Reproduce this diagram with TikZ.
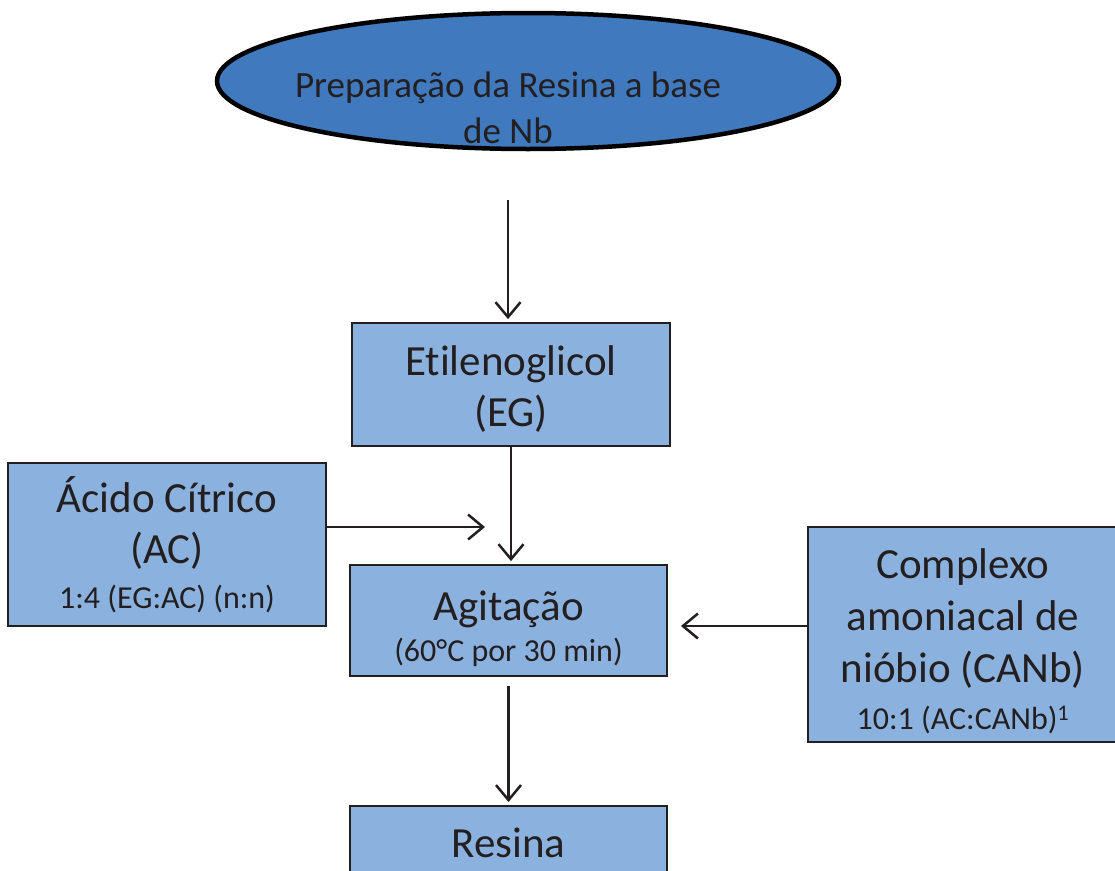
\documentclass[tikz,border=0pt]{standalone}
\usepackage{fontspec}
\setmainfont{Carlito}[Ligatures={NoCommon}]
\usetikzlibrary{shapes.geometric,arrows.meta}
\definecolor{boxfill}{RGB}{139,178,222}
\definecolor{ellfill}{RGB}{64,121,189}
\definecolor{txt}{RGB}{35,31,32}
\definecolor{edge}{RGB}{35,31,32}
\tikzset{
  stepbox/.style={draw=edge, line width=1.8pt, fill=boxfill, rectangle, inner sep=0pt, align=center, text=txt, font=\fontsize{43}{51}\selectfont},
  flow/.style={draw=edge, line width=2.5pt, shorten >=3pt, -{Straight Barb[length=15pt,width=25pt,line width=2.5pt]}},
}
\newcommand{\smalltxt}{\fontsize{32}{38}\selectfont}
\begin{document}
\begin{tikzpicture}[x=1pt,y=-1pt]
\useasboundingbox (0,0) rectangle (1115,870);
\fill[white] (0,0) rectangle (1115,870);
\node[ellipse, draw=black, line width=4.5pt, fill=ellfill, minimum width=622pt, minimum height=136pt, inner sep=0pt] (start) at (528,81) {};
\node[align=center, text=txt, font=\fontsize{37}{46}\selectfont, inner sep=0pt] (title) at (508,108) {Preparação da Resina a base\\de Nb};
\node[stepbox, minimum width=318pt, minimum height=123pt] (eg) at (511,384.5) {\rule{0pt}{38pt}Etilenoglicol\\(EG)};
\node[stepbox, minimum width=318pt, minimum height=163pt] (ac) at (167,544.5) {Ácido Cítrico\\(AC)\\[-6pt]{\smalltxt 1:4 (EG:AC) (n:n)}};
\node[stepbox, minimum width=317pt, minimum height=111pt] (agit) at (508.5,620.5) {\rule{0pt}{46pt}Agitação\\[-10pt]{\smalltxt (60°C por 30 min)}};
\node[stepbox, minimum width=310pt, minimum height=215pt, font=\fontsize{43}{52}\selectfont] (canb) at (963,634.5) {\rule{0pt}{44pt}Complexo\\amoniacal de\\nióbio (CANb)\\[-5pt]{\smalltxt 10:1 (AC:CANb)\textsuperscript{1}}};
\node[stepbox, minimum width=317pt, minimum height=110pt, anchor=north] (res) at (508.5,805) {};
\node[text=txt, font=\fontsize{43}{50}\selectfont, anchor=base] (restxt) at (508.5,857) {Resina};
\coordinate (a1s) at (508,200);
\coordinate (acend) at (485,527);
\coordinate (canbend) at (681,626);
\draw[flow] (a1s) -- (eg.north -| a1s);
\draw[flow] (eg.south) -- (agit.north -| eg.south);
\draw[flow, shorten >=0pt] (ac.east |- acend) -- (acend);
\draw[flow, shorten >=0pt] (canb.west |- canbend) -- (canbend);
\draw[flow, shorten <=9pt] (agit.south) -- (res.north);
\end{tikzpicture}
\end{document}
